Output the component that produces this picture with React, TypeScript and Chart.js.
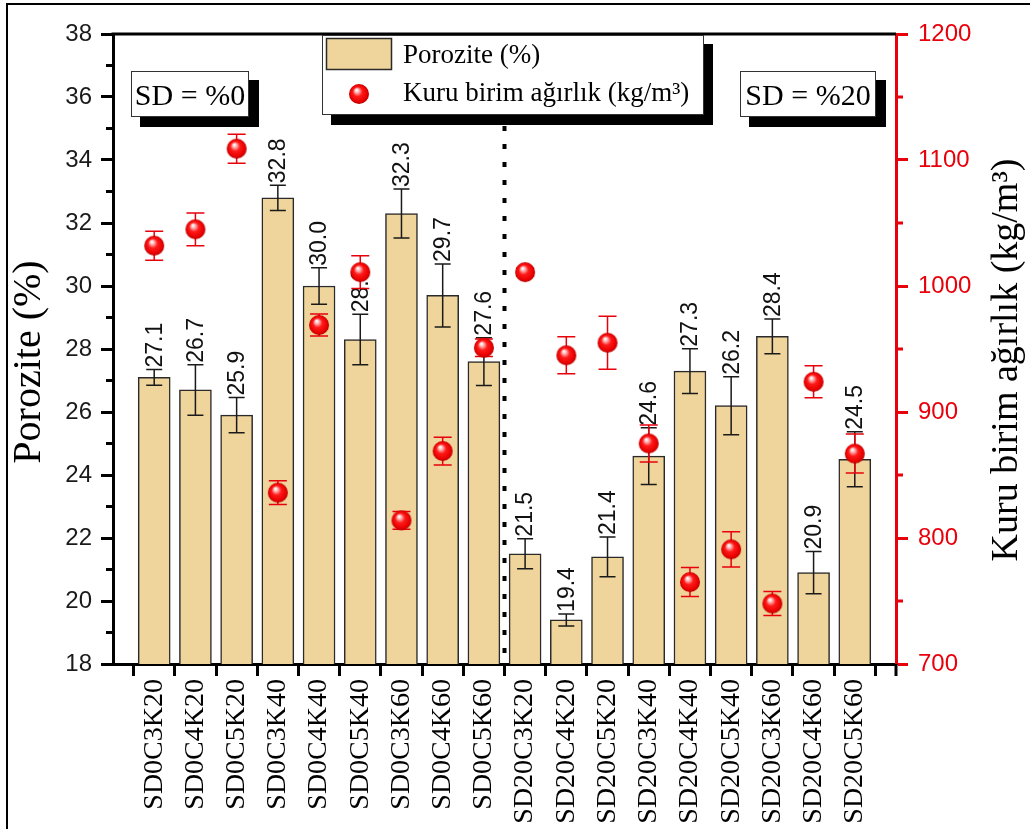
import React, { useEffect, useRef } from 'react';
import { Chart, registerables } from 'chart.js';

Chart.register(...registerables);

const categories = [
  'SD0C3K20', 'SD0C4K20', 'SD0C5K20', 'SD0C3K40', 'SD0C4K40', 'SD0C5K40',
  'SD0C3K60', 'SD0C4K60', 'SD0C5K60', 'SD20C3K20', 'SD20C4K20', 'SD20C5K20',
  'SD20C3K40', 'SD20C4K40', 'SD20C5K40', 'SD20C3K60', 'SD20C4K60', 'SD20C5K60',
];
const porozite = [27.1, 26.7, 25.9, 32.8, 30.0, 28.3, 32.3, 29.7, 27.6, 21.5, 19.4, 21.4, 24.6, 27.3, 26.2, 28.4, 20.9, 24.5];
const poroziteErr = [0.25, 0.8, 0.56, 0.4, 0.58, 0.8, 0.78, 1.0, 0.76, 0.48, 0.19, 0.63, 0.9, 0.71, 0.92, 0.55, 0.67, 0.87];
const density = [1032, 1045, 1109, 836, 969, 1011, 814, 869, 951, 1011, 945, 955, 875, 765, 791, 748, 924, 867];
const densityErr = [11.5, 13, 11.5, 9.5, 8.7, 13, 7, 11, 7, 3, 14.7, 21, 14.7, 11.5, 14, 9.6, 12.7, 15.5];
const leftMinorTicks = [19, 21, 23, 25, 27, 29, 31, 33, 35, 37];
const rightMinorTicks = [750, 850, 950, 1050, 1150];
const legendLabels = ['Porozite (%)', 'Kuru birim ağırlık (kg/m³)'];
const groupLabels = ['SD = %0', 'SD = %20'];
const leftTitle = 'Porozite (%)';
const rightTitle = 'Kuru birim ağırlık (kg/m³)';

const SERIF = "'Liberation Serif', 'Times New Roman', serif";
const SANS = "'Liberation Sans', Arial, sans-serif";
const BAR_FILL = '#EFD49B';
const BAR_BORDER = '#2a2a2a';
const AXIS_RED = '#e8000b';

function makeSphere(r: number): HTMLCanvasElement {
  const c = document.createElement('canvas');
  const s = Math.ceil(r * 2 + 2);
  c.width = s;
  c.height = s;
  const ctx = c.getContext('2d')!;
  const cx = s / 2, cy = s / 2;
  const g = ctx.createRadialGradient(cx - r * 0.25, cy - r * 0.4, r * 0.05, cx, cy, r);
  g.addColorStop(0, '#ffffff');
  g.addColorStop(0.18, '#ffb0b0');
  g.addColorStop(0.45, '#ff1a1a');
  g.addColorStop(0.85, '#e80000');
  g.addColorStop(1, '#b00000');
  ctx.fillStyle = g;
  ctx.beginPath();
  ctx.arc(cx, cy, r, 0, Math.PI * 2);
  ctx.fill();
  return c;
}

const padded = (arr: number[]) => [null, ...arr, null];

export default function App() {
  const ref = useRef<HTMLCanvasElement>(null);

  useEffect(() => {
    document.body.style.margin = '0';
    const sphere = makeSphere(10);

    const overlay = {
      id: 'overlay',
      beforeDatasetsDraw(chart: any) {
        const { ctx, chartArea, scales } = chart;
        const xs = scales.x;
        const xm = (xs.getPixelForValue(9) + xs.getPixelForValue(10)) / 2;
        ctx.save();
        ctx.strokeStyle = '#000';
        ctx.lineWidth = 4;
        ctx.setLineDash([5, 13]);
        ctx.beginPath();
        ctx.moveTo(xm, chartArea.top + 2);
        ctx.lineTo(xm, chartArea.bottom);
        ctx.stroke();
        ctx.restore();
      },
      afterDatasetDraw(chart: any, args: any) {
        if (args.index !== 0) return;
        const { ctx, scales } = chart;
        const xs = scales.x, ys = scales.y;
        ctx.save();
        porozite.forEach((v, i) => {
          const x = xs.getPixelForValue(i + 1);
          const yt = ys.getPixelForValue(v + poroziteErr[i]);
          const yb = ys.getPixelForValue(v - poroziteErr[i]);
          ctx.strokeStyle = '#1a1a1a';
          ctx.lineWidth = 1.5;
          ctx.beginPath();
          ctx.moveTo(x, yt); ctx.lineTo(x, yb);
          ctx.moveTo(x - 8, yt); ctx.lineTo(x + 8, yt);
          ctx.moveTo(x - 8, yb); ctx.lineTo(x + 8, yb);
          ctx.stroke();
          ctx.save();
          ctx.translate(x + 1, yt - 2);
          ctx.rotate(-Math.PI / 2);
          ctx.font = `23px ${SANS}`;
          ctx.fillStyle = '#111';
          ctx.textAlign = 'left';
          ctx.textBaseline = 'middle';
          ctx.fillText(v.toFixed(1), 0, 0);
          ctx.restore();
        });
        ctx.restore();
      },
      beforeDatasetDraw(chart: any, args: any) {
        if (args.index !== 1) return;
        const { ctx, scales } = chart;
        const xs = scales.x, ys = scales.y1;
        ctx.save();
        ctx.strokeStyle = AXIS_RED;
        ctx.lineWidth = 1.5;
        density.forEach((v, i) => {
          const x = xs.getPixelForValue(i + 1);
          const yt = ys.getPixelForValue(v + densityErr[i]);
          const yb = ys.getPixelForValue(v - densityErr[i]);
          ctx.beginPath();
          ctx.moveTo(x, yt); ctx.lineTo(x, yb);
          ctx.moveTo(x - 9, yt); ctx.lineTo(x + 9, yt);
          ctx.moveTo(x - 9, yb); ctx.lineTo(x + 9, yb);
          ctx.stroke();
        });
        ctx.restore();
      },
      afterDraw(chart: any) {
        const { ctx, chartArea, scales } = chart;
        const { left, right, top, bottom } = chartArea;
        ctx.save();
        ctx.strokeStyle = '#000';
        ctx.lineWidth = 3;
        ctx.beginPath();
        ctx.moveTo(left - 1.5, top);
        ctx.lineTo(right, top);
        ctx.stroke();
        leftMinorTicks.forEach((v) => {
          const y = scales.y.getPixelForValue(v);
          ctx.beginPath();
          ctx.moveTo(left, y);
          ctx.lineTo(left - 7, y);
          ctx.stroke();
        });
        ctx.strokeStyle = AXIS_RED;
        rightMinorTicks.forEach((v) => {
          const y = scales.y1.getPixelForValue(v);
          ctx.beginPath();
          ctx.moveTo(right, y);
          ctx.lineTo(right + 7, y);
          ctx.stroke();
        });
        ctx.strokeStyle = '#000';
        ctx.beginPath();
        ctx.moveTo(right, bottom);
        ctx.lineTo(right, bottom + 12);
        ctx.stroke();

        ctx.fillStyle = '#000';
        ctx.textAlign = 'center';
        ctx.textBaseline = 'alphabetic';
        ctx.save();
        ctx.translate(40, 362);
        ctx.rotate(-Math.PI / 2);
        ctx.font = `40px ${SERIF}`;
        ctx.fillText(leftTitle, 0, 0);
        ctx.restore();
        ctx.save();
        ctx.translate(1017, 360);
        ctx.rotate(-Math.PI / 2);
        ctx.font = `38px ${SERIF}`;
        ctx.fillText(rightTitle, 0, 0);
        ctx.restore();

        ctx.fillStyle = '#000';
        ctx.fillRect(331, 44, 382, 81);
        ctx.fillStyle = '#fff';
        ctx.fillRect(322, 35, 382, 80);
        ctx.strokeStyle = '#333';
        ctx.lineWidth = 1;
        ctx.strokeRect(322.5, 35.5, 381, 79);
        ctx.fillStyle = BAR_FILL;
        ctx.fillRect(326, 38, 66, 32);
        ctx.strokeStyle = BAR_BORDER;
        ctx.lineWidth = 1.5;
        ctx.strokeRect(326.5, 38.5, 65, 31);
        ctx.drawImage(sphere, 359 - sphere.width / 2, 94 - sphere.height / 2);
        ctx.fillStyle = '#000';
        ctx.font = `27px ${SERIF}`;
        ctx.textAlign = 'left';
        ctx.textBaseline = 'alphabetic';
        ctx.fillText(legendLabels[0], 403, 63);
        ctx.fillText(legendLabels[1], 403, 101);

        const box = (x: number, y: number, w: number, h: number, text: string) => {
          ctx.fillStyle = '#000';
          ctx.fillRect(x + 9, y + 9, w + 1, h + 1);
          ctx.fillStyle = '#fff';
          ctx.fillRect(x, y, w, h);
          ctx.strokeStyle = '#333';
          ctx.lineWidth = 1;
          ctx.strokeRect(x + 0.5, y + 0.5, w - 1, h - 1);
          ctx.fillStyle = '#000';
          ctx.font = `30px ${SERIF}`;
          ctx.textAlign = 'center';
          ctx.textBaseline = 'alphabetic';
          ctx.fillText(text, x + w / 2, y + h / 2 + 11);
        };
        box(131, 71, 118, 46, groupLabels[0]);
        box(740, 71, 136, 46, groupLabels[1]);

        ctx.strokeStyle = '#000';
        ctx.lineWidth = 2;
        ctx.beginPath();
        ctx.moveTo(7, 829);
        ctx.lineTo(7, 4);
        ctx.lineTo(1030, 4);
        ctx.stroke();
        ctx.restore();
      },
    };

    const chart = new Chart(ref.current!, {
      type: 'bar',
      data: {
        labels: ['', ...categories, ''],
        datasets: [
          {
            type: 'bar',
            label: legendLabels[0],
            data: padded(porozite) as any,
            yAxisID: 'y',
            backgroundColor: BAR_FILL,
            borderColor: BAR_BORDER,
            borderWidth: 1.5,
            barThickness: 32,
            order: 2,
          },
          {
            type: 'line',
            label: legendLabels[1],
            data: padded(density) as any,
            yAxisID: 'y1',
            showLine: false,
            pointStyle: sphere as any,
            pointRadius: 10,
            pointHoverRadius: 10,
            order: 1,
          } as any,
        ],
      },
      options: {
        responsive: false,
        animation: false,
        devicePixelRatio: 1,
        layout: { padding: { top: 34, left: 0, right: 0, bottom: 0 } },
        plugins: {
          legend: { display: false },
          tooltip: { enabled: false },
        },
        scales: {
          x: {
            type: 'category',
            offset: false,
            afterFit: (s: any) => { s.height = 165; },
            border: { color: '#000', width: 3 },
            grid: { drawOnChartArea: false, drawTicks: true, tickLength: 12, tickWidth: 3, tickColor: '#000' },
            ticks: {
              autoSkip: false,
              minRotation: 90,
              maxRotation: 90,
              padding: 3,
              color: '#000',
              font: { family: SERIF, size: 28 },
            },
          },
          y: {
            position: 'left',
            min: 18,
            max: 38,
            afterFit: (s: any) => { s.width = 113; },
            border: { color: '#000', width: 3 },
            grid: { drawOnChartArea: false, drawTicks: true, tickLength: 12, tickWidth: 3, tickColor: '#000' },
            ticks: {
              stepSize: 2,
              padding: 9,
              color: '#1a1a1a',
              font: { family: SANS, size: 24 },
              callback: (v: any) => String(v),
            },
          },
          y1: {
            position: 'right',
            min: 700,
            max: 1200,
            afterFit: (s: any) => { s.width = 134; },
            border: { color: AXIS_RED, width: 3 },
            grid: { drawOnChartArea: false, drawTicks: true, tickLength: 12, tickWidth: 3, tickColor: AXIS_RED },
            ticks: {
              stepSize: 100,
              padding: 10,
              color: AXIS_RED,
              font: { family: SANS, size: 24 },
              callback: (v: any) => String(v),
            },
          },
        },
      },
      plugins: [overlay],
    });
    return () => chart.destroy();
  }, []);

  return (
    <div style={{ width: 1030, height: 829, background: '#fff' }}>
      <canvas ref={ref} width={1030} height={829} style={{ display: 'block' }} />
    </div>
  );
}
